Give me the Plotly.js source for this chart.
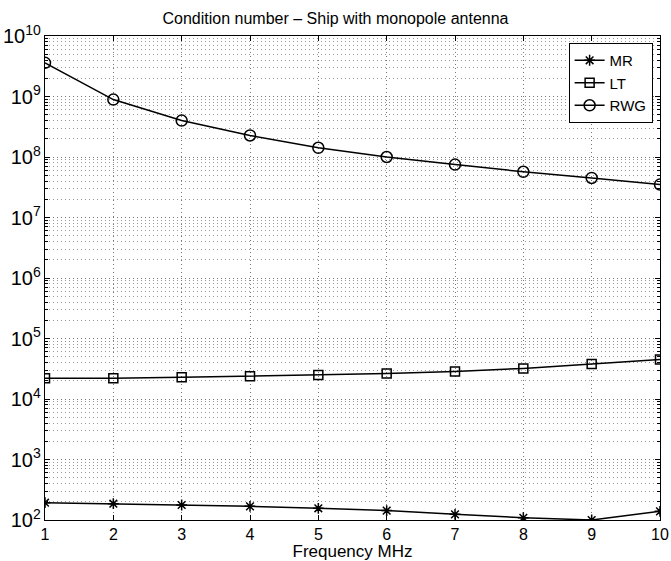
<!DOCTYPE html>
<html>
<head>
<meta charset="utf-8">
<script src="https://cdn.plot.ly/plotly-3.0.1.min.js"></script>
<style>html,body{margin:0;padding:0;background:#fff;}#chart{width:671px;height:561px;}</style>
</head>
<body>
<div id="chart"></div>
<script>
const frequency = [1, 2, 3, 4, 5, 6, 7, 8, 9, 10];
const mrValues = [193, 186, 177, 168, 156, 143, 124, 109, 100, 139];
const ltValues = [22000, 22000, 22800, 23800, 25000, 26500, 28500, 32000, 38000, 45000];
const rwgValues = [3.6e9, 8.9e8, 4.0e8, 2.27e8, 1.42e8, 1.0e8, 7.5e7, 5.7e7, 4.5e7, 3.5e7];
const seriesNames = ["MR", "LT", "RWG"];
const xTicks = [1, 2, 3, 4, 5, 6, 7, 8, 9, 10];

const lineStyle = {color: "#000", width: 1.5};
const traces = [
  {x: frequency, y: mrValues, name: seriesNames[0], mode: "lines+markers", line: lineStyle,
   marker: {symbol: "asterisk-open", size: 9, color: "#000", line: {color: "#000", width: 1.5}}},
  {x: frequency, y: ltValues, name: seriesNames[1], mode: "lines+markers", line: lineStyle,
   marker: {symbol: "square-open", size: 9, color: "#000", line: {color: "#000", width: 1.5}}},
  {x: frequency, y: rwgValues, name: seriesNames[2], mode: "lines+markers", line: lineStyle,
   marker: {symbol: "circle-open", size: 11, color: "#000", line: {color: "#000", width: 1.5}}}
];

const font = {family: "Liberation Sans, Arial, Helvetica, sans-serif", color: "#000"};
const gridDash = "1px,3px";
const layout = {
  width: 671, height: 561,
  margin: {l: 45, r: 11, t: 36, b: 41},
  paper_bgcolor: "#fff", plot_bgcolor: "#fff",
  font: Object.assign({size: 16}, font),
  title: {text: "Condition number \u2013 Ship with monopole antenna", font: Object.assign({size: 16}, font),
          x: 0.5, xanchor: "center", y: 0.968, yanchor: "middle"},
  showlegend: true,
  legend: {x: 0.988, y: 0.9855, xanchor: "right", yanchor: "top", bgcolor: "#fff",
           bordercolor: "#000", borderwidth: 1, font: Object.assign({size: 15}, font),
           tracegroupgap: 0, itemwidth: 30, valign: "middle"},
  xaxis: {
    range: [1, 10], tickvals: xTicks, ticktext: xTicks.map(String),
    showline: true, linecolor: "#000", linewidth: 1, mirror: "ticks",
    ticks: "inside", ticklen: 5, tickcolor: "#000",
    showgrid: true, gridcolor: "#777", griddash: gridDash, gridwidth: 1,
    zeroline: false,
    title: {text: "Frequency MHz", font: Object.assign({size: 17}, font), standoff: 0},
    tickfont: Object.assign({size: 16}, font)
  },
  yaxis: {
    type: "log", range: [2, 10], dtick: 1, exponentformat: "power", showexponent: "all",
    showline: true, linecolor: "#000", linewidth: 1, mirror: "ticks",
    ticks: "inside", ticklen: 5, tickcolor: "#000",
    showgrid: true, gridcolor: "#777", griddash: gridDash, gridwidth: 1,
    zeroline: false,
    tickfont: Object.assign({size: 16}, font),
    minor: {dtick: "D1", showgrid: true, gridcolor: "#999", griddash: gridDash, gridwidth: 1,
            ticks: "inside", ticklen: 3, tickcolor: "#000"}
  }
};

Plotly.newPlot("chart", traces, layout, {displayModeBar: false, staticPlot: true});
</script>
</body>
</html>
